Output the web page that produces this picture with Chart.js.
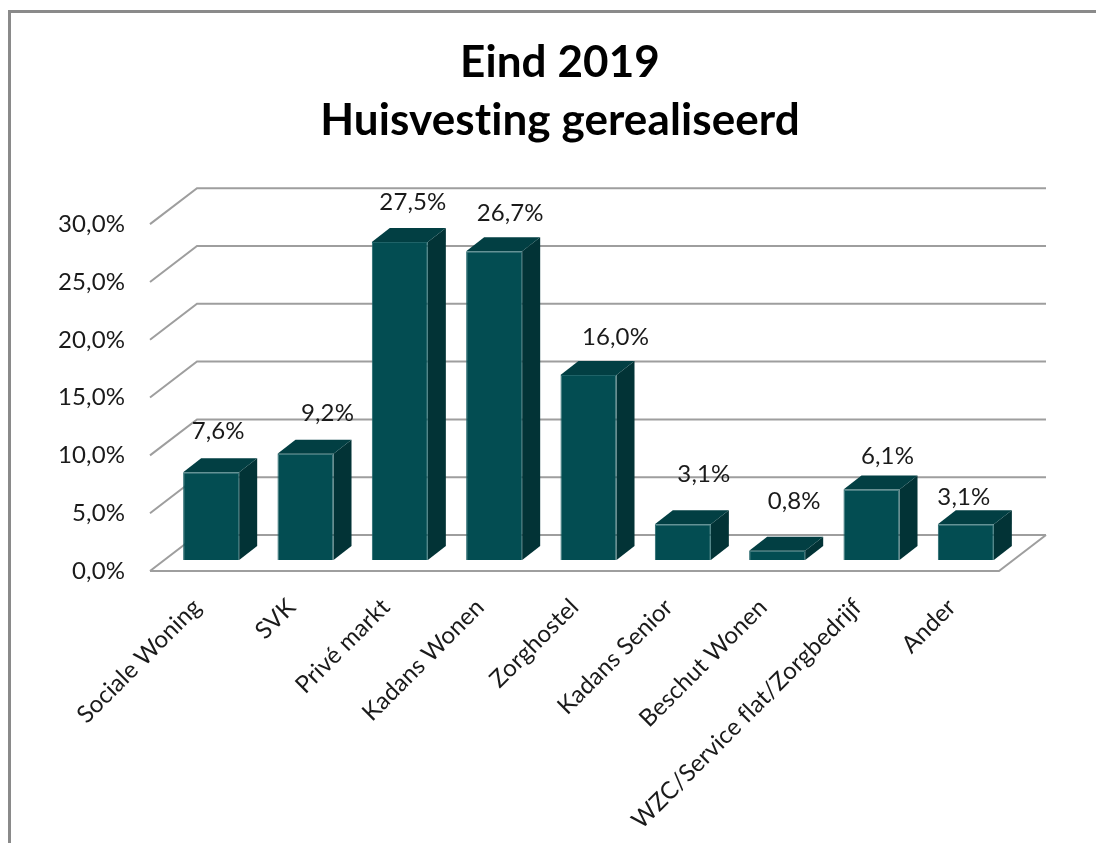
<!DOCTYPE html>
<html>
<head>
<meta charset="utf-8">
<title>Huisvesting gerealiseerd</title>
<script src="https://cdn.jsdelivr.net/npm/chart.js@4"></script>
<style>
  html, body { margin: 0; padding: 0; background: #fff; }
  canvas { display: block; }
</style>
</head>
<body>
<canvas id="chart" width="1096" height="843"></canvas>
<script>
const categories = ['Sociale Woning', 'SVK', 'Privé markt', 'Kadans Wonen', 'Zorghostel',
    'Kadans Senior', 'Beschut Wonen', 'WZC/Service flat/Zorgbedrijf', 'Ander'];
const percentages = [7.6, 9.2, 27.5, 26.7, 16.0, 3.1, 0.8, 6.1, 3.1];
const titleLines = ['Eind 2019', 'Huisvesting gerealiseerd'];

// Excel heeft de labels met de hand verschoven, dus per balk een eigen verschuiving
const labelShiftX = [7, 22, 13, 16, 27, 21, 17, 16, -2];
const labelShiftY = [-41, -40, -40, -38, -38, -50, -49, -33, -27];

const FONT = 'Lato, Carlito, sans-serif';
const TEXT = '#1a1a1a';
const GRID = '#9e9e9e';
const FRONT = '#034d52';
const TOP = '#023f43';
const SIDE = '#023336';

// diepte van de vloer en van de balken (3D-look)
const WALL_DX = 47, WALL_DY = -36;
const BAR_DX = 18, BAR_DY = -14;
const SHIFT_X = 14, SHIFT_Y = -11;

const frame3d = {
    id: 'frame3d',
    beforeDraw(chart) {
        const ctx = chart.ctx;
        ctx.letterSpacing = '0.1px'; // geen ti-ligatuur in de titel
        ctx.save();
        ctx.fillStyle = '#fff';
        ctx.fillRect(0, 0, chart.width, chart.height);
        ctx.strokeStyle = '#8a8a8a';
        ctx.lineWidth = 3;
        ctx.beginPath();
        ctx.moveTo(9.5, chart.height);
        ctx.lineTo(9.5, 11.5);
        ctx.lineTo(chart.width, 11.5);
        ctx.stroke();
        ctx.restore();
    },
    beforeDatasetsDraw(chart) {
        const ctx = chart.ctx;
        const { left, right } = chart.chartArea;
        const y = chart.scales.y;

        // rasterlijnen: schuin stuk links plus de achterwand
        ctx.save();
        ctx.strokeStyle = GRID;
        ctx.lineWidth = 2;
        y.ticks.forEach(t => {
            const py = y.getPixelForValue(t.value);
            ctx.beginPath();
            ctx.moveTo(left, py);
            ctx.lineTo(left + WALL_DX, py + WALL_DY);
            ctx.lineTo(right + WALL_DX, py + WALL_DY);
            ctx.stroke();
        });
        // vloer
        const py0 = y.getPixelForValue(0);
        ctx.beginPath();
        ctx.moveTo(left, py0);
        ctx.lineTo(right, py0);
        ctx.lineTo(right + WALL_DX, py0 + WALL_DY);
        ctx.stroke();

        // zij- en bovenkant van de balken
        ctx.translate(SHIFT_X, SHIFT_Y);
        chart.getDatasetMeta(0).data.forEach(bar => {
            const { x, y: top, base, width } = bar.getProps(['x', 'y', 'base', 'width']);
            const l = x - width / 2, r = x + width / 2;
            ctx.fillStyle = SIDE;
            ctx.beginPath();
            ctx.moveTo(r, top);
            ctx.lineTo(r + BAR_DX, top + BAR_DY);
            ctx.lineTo(r + BAR_DX, base + BAR_DY);
            ctx.lineTo(r, base);
            ctx.closePath();
            ctx.fill();
            ctx.fillStyle = TOP;
            ctx.beginPath();
            ctx.moveTo(l, top);
            ctx.lineTo(l + BAR_DX, top + BAR_DY);
            ctx.lineTo(r + BAR_DX, top + BAR_DY);
            ctx.lineTo(r, top);
            ctx.closePath();
            ctx.fill();
        });
    },
    afterDatasetsDraw(chart) {
        const ctx = chart.ctx;
        ctx.restore();

        // datalabels
        ctx.save();
        ctx.font = '24px ' + FONT;
        ctx.fillStyle = TEXT;
        ctx.textAlign = 'center';
        ctx.textBaseline = 'middle';
        chart.getDatasetMeta(0).data.forEach((bar, i) => {
            const { x, y: top } = bar.getProps(['x', 'y']);
            const txt = percentages[i].toFixed(1).replace('.', ',') + '%';
            ctx.fillText(txt, x + SHIFT_X + labelShiftX[i], top + SHIFT_Y + labelShiftY[i]);
        });
        ctx.restore();
    }
};

new Chart(document.getElementById('chart'), {
    type: 'bar',
    plugins: [frame3d],
    data: {
        labels: categories,
        datasets: [{
            data: percentages,
            backgroundColor: FRONT,
            borderColor: '#1f6368',
            borderWidth: 1,
            categoryPercentage: 1,
            barPercentage: 0.594
        }]
    },
    options: {
        responsive: false,
        animation: false,
        layout: { padding: { left: 24, right: 0, top: 0, bottom: 0 } },
        plugins: {
            legend: { display: false },
            tooltip: { enabled: false },
            title: {
                display: true,
                text: titleLines,
                color: '#000',
                font: { family: FONT, size: 44, weight: 'bold', lineHeight: 1.32 },
                padding: { top: 34, bottom: 74 }
            }
        },
        scales: {
            x: {
                grid: { display: false },
                border: { display: false },
                afterFit: s => { s.height = 272; },
                ticks: {
                    color: TEXT,
                    font: { family: FONT, size: 24 },
                    minRotation: 45,
                    maxRotation: 45,
                    autoSkip: false,
                    padding: 14
                }
            },
            y: {
                min: 0,
                max: 30,
                grid: { display: false, drawTicks: false },
                border: { display: false },
                afterFit: s => { s.width = 126; },
                ticks: {
                    stepSize: 5,
                    color: TEXT,
                    font: { family: FONT, size: 24 },
                    padding: 25,
                    callback: v => v.toFixed(1).replace('.', ',') + '%'
                }
            },
            // lege as rechts: houdt ruimte vrij voor de achterwand
            wall: {
                axis: 'y',
                position: 'right',
                grid: { display: false },
                border: { display: false },
                ticks: { display: false },
                afterFit: s => { s.width = 97; }
            }
        }
    }
});
</script>
</body>
</html>
